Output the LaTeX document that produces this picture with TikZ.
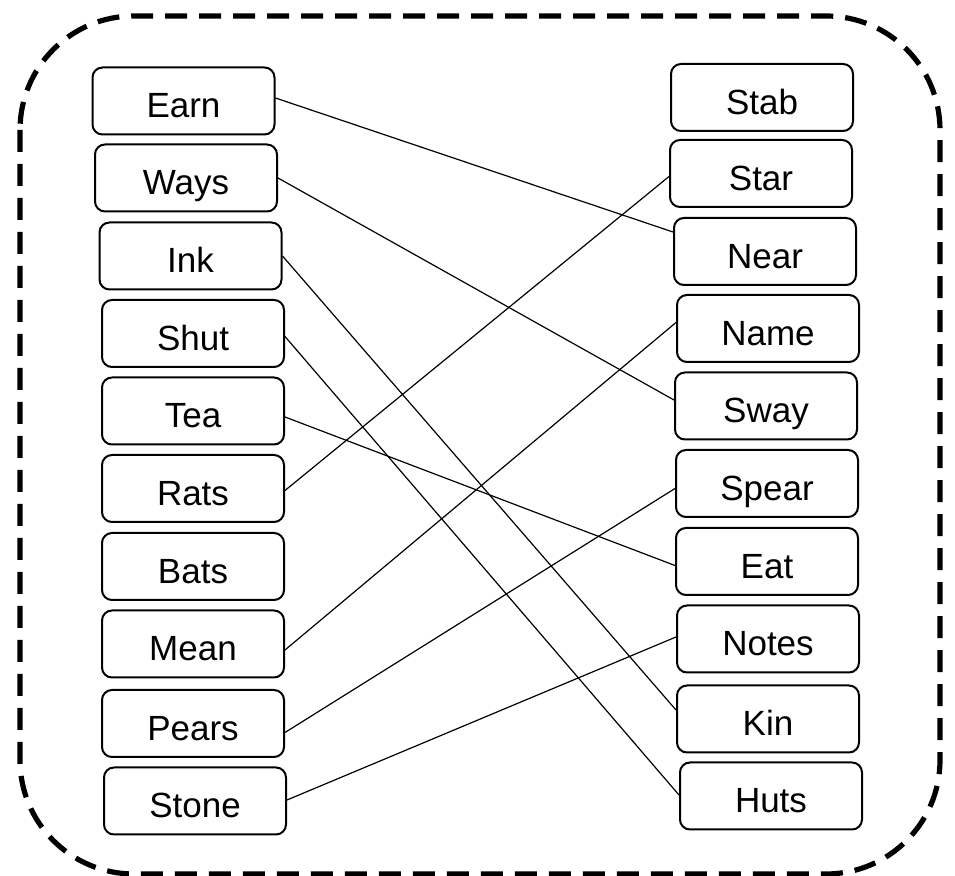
\documentclass[tikz,border=0pt]{standalone}
\usepackage{fontspec}
\setmainfont{Liberation Sans}
\usetikzlibrary{positioning}
\tikzstyle{word}=[draw,rounded corners=5pt,line width=1pt,minimum width=91pt,minimum height=33.5pt,inner sep=0pt,text height=17pt,text depth=0pt,font=\fontsize{17.5}{21}\selectfont]
\tikzstyle{link}=[line width=0.6pt]
\tikzstyle{frame}=[line width=2.6pt,dash pattern=on 11pt off 6pt,rounded corners=57pt]

\begin{document}
\begin{tikzpicture}[x=0.5pt,y=-0.5pt]
    \useasboundingbox (0,0) rectangle (955,876);
    \draw[frame] (20,16) rectangle (940,874);
    % left words
    \foreach \n/\x/\y in {Earn/183.5/101, Ways/186/178, Ink/190.5/256, Shut/193/333.5, Tea/193/411,
                          Rats/193/488.5, Bats/193/566.5, Mean/193/644, Pears/193/723.5, Stone/195/801}
        \node[word] (\n) at (\x,\y) {\n};
    % right words
    \foreach \n/\x/\y in {Stab/762/97.5, Star/761/173.5, Near/765/251.5, Name/768/328.5, Sway/766/406,
                          Spear/767/483.5, Eat/767/561.5, Notes/768/639, Kin/768/719, Huts/771/796}
        \node[word] (\n) at (\x,\y) {\n};
    % matches
    \foreach \a/\b/\da/\db in {Earn/Near/1.5/9.75, Ways/Sway/0/3, Ink/Kin/0/4.5, Shut/Huts/-1.5/0.5,
                               Tea/Eat/-3/-2, Rats/Star/-1/-1.5, Mean/Name/-3/3, Pears/Spear/-4.5/-2.5,
                               Stone/Notes/0.5/1}
        \draw[link] ([yshift=\da pt]\a.east) -- ([yshift=\db pt]\b.west);
\end{tikzpicture}
\end{document}
